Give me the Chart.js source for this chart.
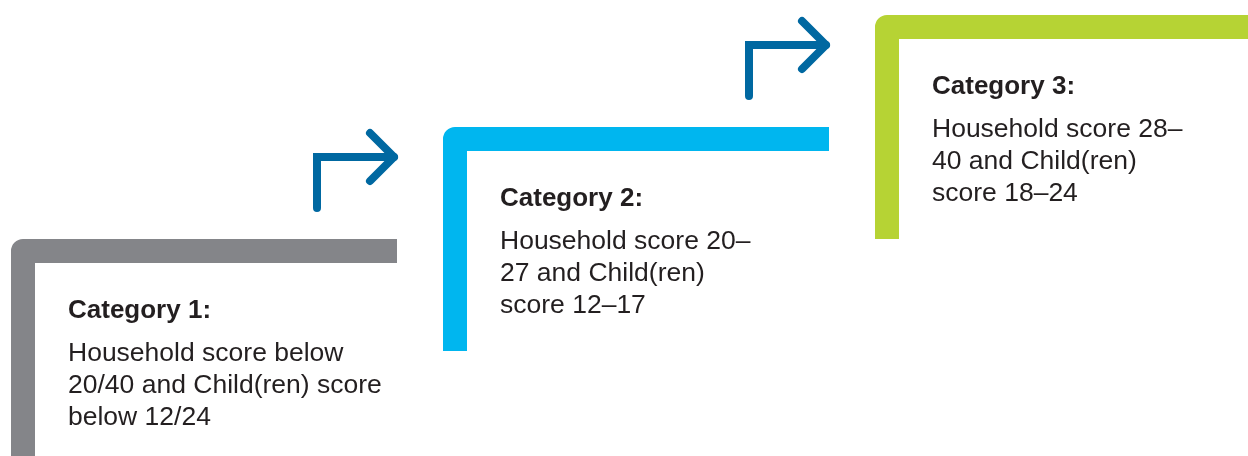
<!DOCTYPE html>
<html>
<head>
<meta charset="utf-8">
<script src="https://cdn.jsdelivr.net/npm/chart.js@4"></script>
<style>
  html, body { margin: 0; padding: 0; background: #ffffff; }
  #wrap { width: 1248px; height: 456px; position: relative; }
</style>
</head>
<body>
<div id="wrap"><canvas id="steps"></canvas></div>
<script>
// categories and their text, one step per category
const categories = ['Category 1:', 'Category 2:', 'Category 3:'];
const descriptions = [
    ['Household score below', '20/40 and Child(ren) score', 'below 12/24'],
    ['Household score 20\u2013', '27 and Child(ren)', 'score 12\u201317'],
    ['Household score 28\u2013', '40 and Child(ren)', 'score 18\u201324']
];
const levels = [1, 2, 3];
const stepColors = ['#848589', '#00b6ef', '#b6d334'];
const arrowColor = '#0068a1';
const textColor = '#231f20';

// layout (pixels)
const STEP_DX = 432;   // horizontal distance between steps
const STEP_DY = 112;   // vertical rise between steps
const X0 = 11;         // left edge of first step
const Y1 = 239;        // top edge of first step
const BAND = 24;       // thickness of step frame
const BAR_LEN = 386;   // length of top bar
const W = 1248, H = 456;

const ux = px => px / STEP_DX;
const uy = px => px / STEP_DY;

// a one-piece dash keeps chart.js off its fast path, which doubles
// back on vertical runs and leaves a round blob at the end
const SOLID = [10000, 0];

const datasets = [];
levels.forEach(function(lvl, i) {
    datasets.push({
        data: [
            { x: i + ux(BAR_LEN), y: lvl - uy(BAND / 2) },
            { x: i + ux(BAND / 2), y: lvl - uy(BAND / 2) },
            { x: i + ux(BAND / 2), y: lvl - 2 }
        ],
        borderColor: stepColors[i],
        borderWidth: BAND,
        borderDash: SOLID,
        borderJoinStyle: 'round',
        borderCapStyle: 'butt'
    });
    if (i < levels.length - 1) {
        // bent arrow to next step
        datasets.push({
            data: [
                { x: i + ux(306), y: lvl + uy(31) },
                { x: i + ux(306), y: lvl + uy(82) },
                { x: i + ux(383), y: lvl + uy(82) }
            ],
            borderColor: arrowColor,
            borderWidth: 8,
            borderDash: SOLID,
            borderJoinStyle: 'miter',
            borderCapStyle: 'round'
        });
        datasets.push({
            data: [
                { x: i + ux(359), y: lvl + uy(82 + 24) },
                { x: i + ux(383), y: lvl + uy(82) },
                { x: i + ux(359), y: lvl + uy(82 - 24) }
            ],
            borderColor: arrowColor,
            borderWidth: 8,
            borderDash: SOLID,
            borderJoinStyle: 'round',
            borderCapStyle: 'round'
        });
    }
});

const labelPlugin = {
    id: 'stepLabels',
    afterDatasetsDraw(chart) {
        const ctx = chart.ctx;
        const xs = chart.scales.x, ys = chart.scales.y;
        ctx.save();
        ctx.fillStyle = textColor;
        ctx.textAlign = 'left';
        ctx.textBaseline = 'alphabetic';
        categories.forEach(function(cat, i) {
            const left = xs.getPixelForValue(i) + 57;
            const top = ys.getPixelForValue(levels[i]);
            ctx.font = 'bold 26px "Liberation Sans", Arial, sans-serif';
            ctx.fillText(cat, left, top + 78.5);
            ctx.font = '26.5px "Liberation Sans", Arial, sans-serif';
            descriptions[i].forEach(function(line, k) {
                ctx.fillText(line, left, top + 121.5 + k * 32.3);
            });
        });
        ctx.restore();
    }
};

new Chart(document.getElementById('steps'), {
    type: 'line',
    data: { datasets: datasets },
    options: {
        responsive: true,
        maintainAspectRatio: false,
        animation: false,
        events: [],
        layout: { padding: 0 },
        elements: { point: { radius: 0 }, line: { tension: 0 } },
        plugins: { legend: { display: false }, tooltip: { enabled: false } },
        scales: {
            x: { type: 'linear', display: false, min: -X0 / STEP_DX, max: (W - X0) / STEP_DX },
            y: { type: 'linear', display: false, min: 1 - (H - Y1) / STEP_DY, max: 1 + Y1 / STEP_DY }
        }
    },
    plugins: [labelPlugin]
});
</script>
</body>
</html>
